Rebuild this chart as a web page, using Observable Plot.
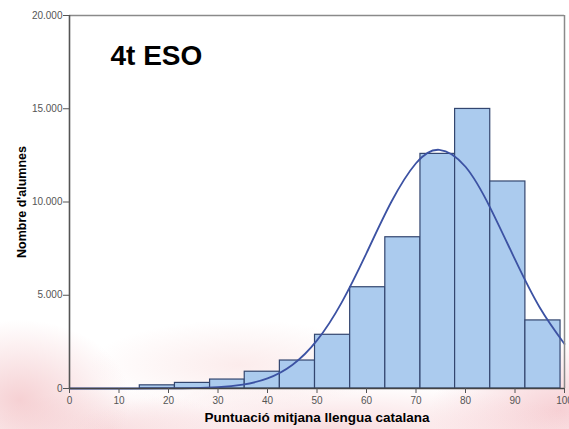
<!DOCTYPE html>
<html>
<head>
<meta charset="utf-8">
<script src="https://cdn.jsdelivr.net/npm/d3@7"></script>
<script src="https://cdn.jsdelivr.net/npm/@observablehq/plot@0.6"></script>
<style>
  html, body { margin: 0; padding: 0; }
  body {
    width: 569px; height: 429px; overflow: hidden;
    font-family: "Liberation Sans", Arial, sans-serif;
    background:
      radial-gradient(ellipse 110px 80px at 20px 400px, rgba(238,170,175,0.55), rgba(238,170,175,0) 100%),
      radial-gradient(ellipse 260px 45px at 330px 429px, rgba(242,185,190,0.5), rgba(242,185,190,0) 100%),
      radial-gradient(ellipse 130px 70px at 560px 410px, rgba(240,170,178,0.55), rgba(240,170,178,0) 100%),
      radial-gradient(ellipse 150px 45px at 240px 365px, rgba(245,200,200,0.35), rgba(245,200,200,0) 100%),
      radial-gradient(ellipse 120px 40px at 110px 429px, rgba(240,185,190,0.4), rgba(240,185,190,0) 100%),
      #ffffff;
  }
  svg { display: block; background: transparent !important; }
</style>
</head>
<body>
<div id="chart"></div>
<script>
// Histogram bin edges (x units) and counts
const binEdges = [14.2, 21.3, 28.4, 35.4, 42.5, 49.6, 56.7, 63.8, 70.9, 77.9, 85.0, 92.1, 99.2];
const counts   = [170, 300, 480, 900, 1500, 2880, 5430, 8110, 12580, 14990, 11100, 3650];

// Fitted normal curve
const curveX = [0, 10, 20, 25, 30, 35, 40, 45, 50, 55, 60, 65, 70, 74.7, 80, 85, 90, 95, 100];
const curveY = [0, 0, 5, 20, 67, 204, 543, 1263, 2580, 4620, 7260, 10000, 12080, 12800, 11890, 9690, 6920, 4340, 2385];

const xTicks = [0, 10, 20, 30, 40, 50, 60, 70, 80, 90, 100];
const yTicks = [0, 5000, 10000, 15000, 20000];

const bars = counts.map((c, i) => ({x1: binEdges[i], x2: binEdges[i + 1], y: c}));
const curve = curveX.map((x, i) => ({x, y: curveY[i]}));

const fmt = d => d3.format(",")(d).replace(/,/g, ".");

const chart = Plot.plot({
  width: 569,
  height: 429,
  marginLeft: 69,
  marginRight: 5,
  marginTop: 15,
  marginBottom: 41,
  style: {fontFamily: "'Liberation Sans', Arial, sans-serif", background: "transparent", overflow: "visible"},
  x: {domain: [0, 100]},
  y: {domain: [0, 20000]},
  marks: [
    Plot.rectY(bars, {x1: "x1", x2: "x2", y: "y", fill: "#abcbee", stroke: "#33466f", strokeWidth: 1.2, inset: 0}),
    Plot.line(curve, {x: "x", y: "y", curve: "natural", stroke: "#3c52a3", strokeWidth: 1.8}),
    Plot.ruleY([20000], {stroke: "#8a8a8a", strokeWidth: 1.5}),
    Plot.ruleX([100], {stroke: "#8a8a8a", strokeWidth: 1.5}),
    Plot.ruleX([0], {stroke: "#555", strokeWidth: 1.6}),
    Plot.ruleY([0], {stroke: "#444", strokeWidth: 1.6}),
    Plot.axisY({ticks: yTicks, tickFormat: fmt, tickSize: 6, tickPadding: 1, label: null, fontSize: 10, color: "#555", stroke: "#555"}),
    Plot.axisX({ticks: xTicks, tickSize: 5, tickPadding: 3, label: null, fontSize: 10, color: "#555", stroke: "#555"}),
    Plot.text(["4t ESO"], {frameAnchor: "top-left", dx: 41, dy: 30, fontSize: 28, fontWeight: "bold", fill: "#000", textAnchor: "start", lineAnchor: "top"}),
    Plot.text(["Nombre d'alumnes"], {frameAnchor: "left", dx: -48, rotate: -90, fontSize: 12.5, fontWeight: "bold", fill: "#000", textAnchor: "middle"}),
    Plot.text(["Puntuació mitjana llengua catalana"], {frameAnchor: "bottom", dy: 33, fontSize: 13.5, fontWeight: "bold", fill: "#000", textAnchor: "middle"})
  ]
});
document.getElementById("chart").appendChild(chart);
</script>
</body>
</html>
